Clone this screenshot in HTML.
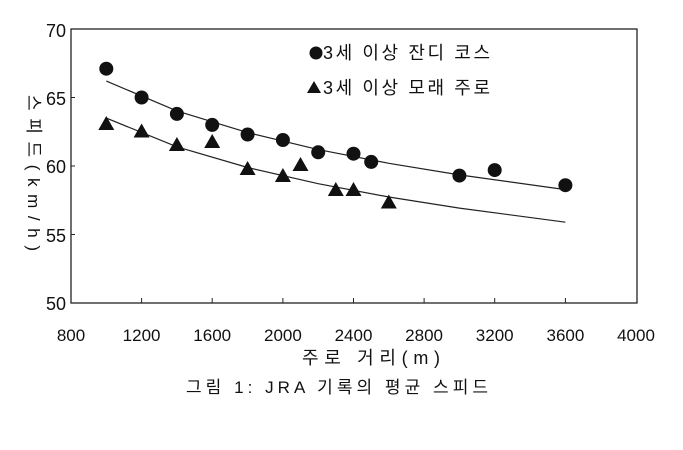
<!DOCTYPE html>
<html><head><meta charset="utf-8"><style>
html,body{margin:0;padding:0;background:#fff;}
svg{display:block;font-family:"Liberation Sans","Noto Sans CJK KR",sans-serif;}
</style></head><body>
<svg width="683" height="450" viewBox="0 0 683 450">
<rect x="71" y="29" width="566" height="274" fill="none" stroke="#222" stroke-width="1.3"/>
<g stroke="#222" stroke-width="1">
<line x1="141.6" y1="303" x2="141.6" y2="298"/><line x1="212.2" y1="303" x2="212.2" y2="298"/>
<line x1="282.9" y1="303" x2="282.9" y2="298"/><line x1="353.5" y1="303" x2="353.5" y2="298"/>
<line x1="424.1" y1="303" x2="424.1" y2="298"/><line x1="494.7" y1="303" x2="494.7" y2="298"/>
<line x1="565.4" y1="303" x2="565.4" y2="298"/>
<line x1="71" y1="97.5" x2="75" y2="97.5"/><line x1="71" y1="166" x2="75" y2="166"/><line x1="71" y1="234.5" x2="75" y2="234.5"/>
</g>
<g font-size="18" fill="#111" text-anchor="end">
<text x="66" y="37">70</text><text x="66" y="105">65</text><text x="66" y="173">60</text>
<text x="66" y="242">55</text><text x="66" y="310">50</text>
</g>
<g font-size="17" fill="#111" text-anchor="middle">
<text x="71" y="341">800</text><text x="141.6" y="341">1200</text><text x="212.2" y="341">1600</text>
<text x="282.9" y="341">2000</text><text x="353.5" y="341">2400</text><text x="424.1" y="341">2800</text>
<text x="494.7" y="341">3200</text><text x="565.4" y="341">3600</text><text x="636" y="341">4000</text>
</g>
<text x="302" y="364" font-size="18" fill="#111" textLength="138" lengthAdjust="spacing">주로 거리(m)</text>
<text x="186" y="393" font-size="17" fill="#111" textLength="302" lengthAdjust="spacing">그림 1: JRA 기록의 평균 스피드</text>
<text transform="translate(28,95) rotate(90)" font-size="17" fill="#111" textLength="156" lengthAdjust="spacing">스피드(km/h)</text>
<g fill="none" stroke="#222" stroke-width="1.2">
<polyline points="106.3,81.1 176.9,110.9 247.6,132.6 318.2,149.6 388.8,163.3 459.4,174.9 565.4,189.6"/>
<polyline points="106.3,118.1 176.9,146.8 247.6,167.5 318.2,183.7 388.8,197 459.4,208.1 565.4,222.2"/>
</g>
<g fill="#111">
<circle cx="106.3" cy="68.7" r="7"/><circle cx="141.6" cy="97.5" r="7"/><circle cx="176.9" cy="113.9" r="7"/>
<circle cx="212.2" cy="124.9" r="7"/><circle cx="247.6" cy="134.5" r="7"/><circle cx="282.9" cy="140" r="7"/>
<circle cx="318.2" cy="152.3" r="7"/><circle cx="353.5" cy="153.7" r="7"/><circle cx="371.2" cy="161.9" r="7"/>
<circle cx="459.4" cy="175.6" r="7"/><circle cx="494.7" cy="170.1" r="7"/><circle cx="565.4" cy="185.2" r="7"/>
<circle cx="316" cy="53" r="6.5"/>
</g>
<g fill="#111">
<path d="M106.3,116 l-8,14 h16z"/><path d="M141.6,123.5 l-8,14 h16z"/><path d="M176.9,137 l-8,14 h16z"/>
<path d="M212.2,134 l-8,14 h16z"/><path d="M247.6,161 l-8,14 h16z"/><path d="M282.9,168 l-8,14 h16z"/>
<path d="M300.5,157 l-8,14 h16z"/><path d="M335.8,182 l-8,14 h16z"/><path d="M353.5,182 l-8,14 h16z"/>
<path d="M388.8,194.5 l-8,14 h16z"/><path d="M314,81 l-7,12 h14z"/>
</g>
<g font-size="18" fill="#111">
<text x="323" y="59" textLength="167" lengthAdjust="spacing">3세 이상 잔디 코스</text>
<text x="323" y="94" textLength="167" lengthAdjust="spacing">3세 이상 모래 주로</text>
</g>
</svg>
</body></html>
